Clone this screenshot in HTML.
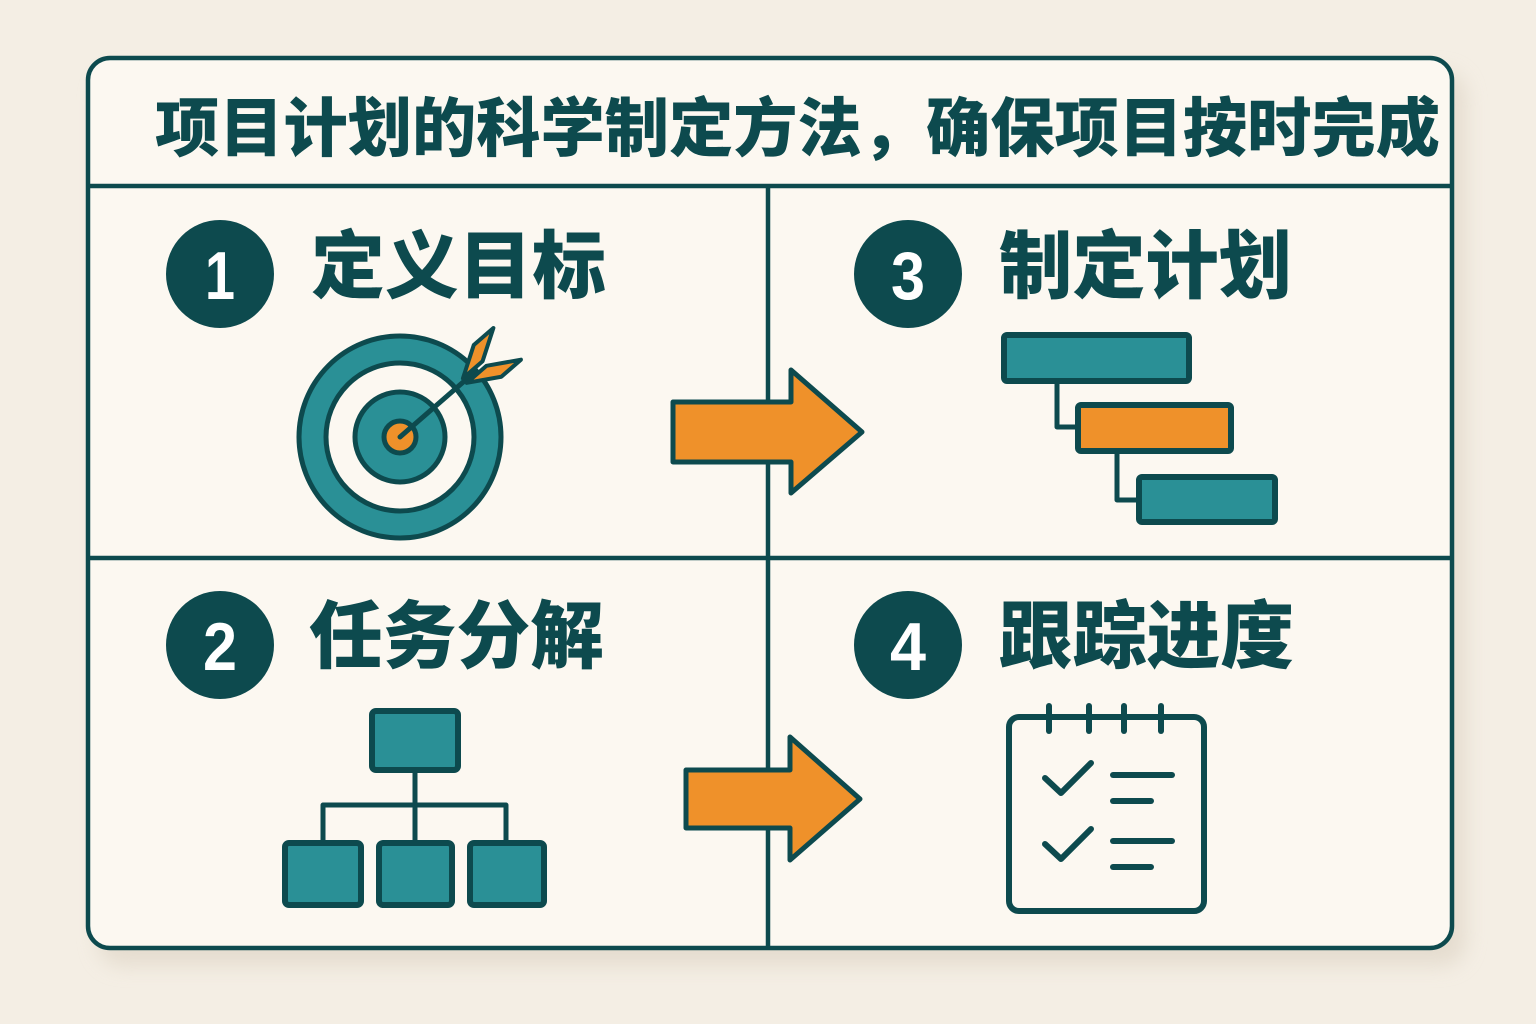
<!DOCTYPE html>
<html>
<head>
<meta charset="utf-8">
<style>
  html,body{margin:0;padding:0;background:#f4eee4;}
  body{width:1536px;height:1024px;overflow:hidden;}
  svg{display:block;}
  .cjk{font-family:"Liberation Sans","Noto Sans CJK SC","WenQuanYi Zen Hei",sans-serif;font-weight:900;fill:#0d4a4e;}
  .num{font-family:"Liberation Sans",sans-serif;font-weight:700;fill:#ffffff;}
</style>
</head>
<body>
<svg width="1536" height="1024" viewBox="0 0 1536 1024" xmlns="http://www.w3.org/2000/svg">
  <defs>
    <filter id="sh" x="-10%" y="-10%" width="120%" height="130%">
      <feGaussianBlur stdDeviation="10"/>
    </filter>
  </defs>
  <rect x="0" y="0" width="1536" height="1024" fill="#f4eee4"/>
  <!-- shadow -->
  <rect x="98" y="72" width="1368" height="894" rx="24" fill="#d9cfbf" opacity="0.55" filter="url(#sh)"/>
  <!-- card -->
  <rect x="88" y="58" width="1364" height="890" rx="22" fill="#fcf8f1" stroke="#0d4a4e" stroke-width="4.5"/>
  <!-- grid lines -->
  <line x1="88" y1="186" x2="1452" y2="186" stroke="#0d4a4e" stroke-width="4.5"/>
  <line x1="88" y1="558" x2="1452" y2="558" stroke="#0d4a4e" stroke-width="4.5"/>
  <line x1="768" y1="186" x2="768" y2="948" stroke="#0d4a4e" stroke-width="4.5"/>

  <!-- title -->
  <text class="cjk" x="155" y="151" font-size="64" textLength="1285" lengthAdjust="spacingAndGlyphs">项目计划的科学制定方法，确保项目按时完成</text>

  <!-- number circles -->
  <circle cx="220" cy="274" r="54" fill="#0d4a4e"/>
  <text class="num" x="220" y="299" font-size="68" text-anchor="middle" textLength="30" lengthAdjust="spacingAndGlyphs">1</text>
  <circle cx="908" cy="274" r="54" fill="#0d4a4e"/>
  <text class="num" x="908" y="299" font-size="68" text-anchor="middle" textLength="34" lengthAdjust="spacingAndGlyphs">3</text>
  <circle cx="220" cy="645" r="54" fill="#0d4a4e"/>
  <text class="num" x="220" y="670" font-size="68" text-anchor="middle" textLength="34" lengthAdjust="spacingAndGlyphs">2</text>
  <circle cx="908" cy="645" r="54" fill="#0d4a4e"/>
  <text class="num" x="908" y="670" font-size="68" text-anchor="middle" textLength="36" lengthAdjust="spacingAndGlyphs">4</text>

  <!-- headings -->
  <text class="cjk" x="311" y="292" font-size="74" textLength="295" lengthAdjust="spacingAndGlyphs">定义目标</text>
  <text class="cjk" x="999" y="292" font-size="74" textLength="293" lengthAdjust="spacingAndGlyphs">制定计划</text>
  <text class="cjk" x="309" y="662" font-size="74" textLength="295" lengthAdjust="spacingAndGlyphs">任务分解</text>
  <text class="cjk" x="999" y="662" font-size="74" textLength="295" lengthAdjust="spacingAndGlyphs">跟踪进度</text>

  <!-- target -->
  <g stroke="#0d4a4e" stroke-width="5">
    <circle cx="400" cy="437" r="101" fill="#2a9096"/>
    <circle cx="400" cy="437" r="74" fill="#fcf8f1"/>
    <circle cx="400" cy="437" r="45" fill="#2a9096"/>
    <circle cx="400" cy="437" r="16" fill="#ef912a"/>
  </g>
  <g transform="translate(400,437) rotate(-41)">
    <line x1="0" y1="0" x2="100" y2="0" stroke="#0d4a4e" stroke-width="5" stroke-linecap="round"/>
    <polygon points="86,-3 112,-3 142,-21 116,-21" fill="#ef912a" stroke="#0d4a4e" stroke-width="4" stroke-linejoin="round"/>
    <polygon points="86,3 112,3 142,21 116,21" fill="#ef912a" stroke="#0d4a4e" stroke-width="4" stroke-linejoin="round"/>
  </g>

  <!-- arrows -->
  <polygon points="673,402 791,402 791,370 862,432 791,493 791,462 673,462" fill="#ef912a" stroke="#0d4a4e" stroke-width="5" stroke-linejoin="round"/>
  <polygon points="686,770 790,770 790,737 860,799 790,860 790,828 686,828" fill="#ef912a" stroke="#0d4a4e" stroke-width="5" stroke-linejoin="round"/>

  <!-- gantt -->
  <g stroke="#0d4a4e" stroke-width="5" fill="none" stroke-linejoin="round">
    <polyline points="1057,383 1057,427 1078,427"/>
    <polyline points="1117,453 1117,500 1139,500"/>
    <rect x="1004" y="335" width="185" height="46" rx="3" fill="#2a9096" stroke-width="6"/>
    <rect x="1078" y="405" width="153" height="46" rx="3" fill="#ef912a" stroke-width="6"/>
    <rect x="1139" y="477" width="136" height="45" rx="3" fill="#2a9096" stroke-width="6"/>
  </g>

  <!-- WBS -->
  <g stroke="#0d4a4e" stroke-width="5" fill="none" stroke-linejoin="round">
    <line x1="415" y1="772" x2="415" y2="843"/>
    <polyline points="323,843 323,805 506,805 506,843"/>
    <rect x="372" y="711" width="86" height="59" rx="4" fill="#2a9096" stroke-width="6"/>
    <rect x="285" y="843" width="76" height="62" rx="4" fill="#2a9096" stroke-width="6"/>
    <rect x="379" y="843" width="73" height="62" rx="4" fill="#2a9096" stroke-width="6"/>
    <rect x="470" y="843" width="74" height="62" rx="4" fill="#2a9096" stroke-width="6"/>
  </g>

  <!-- checklist -->
  <g stroke="#0d4a4e" stroke-width="6" fill="none" stroke-linecap="round" stroke-linejoin="round">
    <rect x="1009" y="717" width="195" height="194" rx="10" fill="#fcf8f1"/>
    <line x1="1049" y1="706" x2="1049" y2="731"/>
    <line x1="1089" y1="706" x2="1089" y2="731"/>
    <line x1="1124" y1="706" x2="1124" y2="731"/>
    <line x1="1161" y1="706" x2="1161" y2="731"/>
    <polyline points="1045,778 1061,793 1091,763"/>
    <polyline points="1045,844 1061,859 1091,829"/>
    <line x1="1113" y1="775" x2="1172" y2="775"/>
    <line x1="1113" y1="801" x2="1151" y2="801"/>
    <line x1="1113" y1="841" x2="1172" y2="841"/>
    <line x1="1113" y1="867" x2="1151" y2="867"/>
  </g>
</svg>
</body>
</html>
